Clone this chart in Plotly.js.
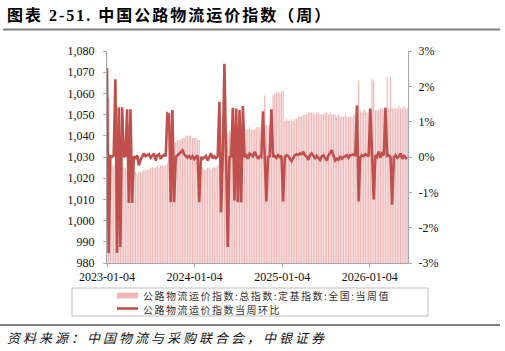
<!DOCTYPE html>
<html><head><meta charset="utf-8">
<script src="https://cdn.plot.ly/plotly-3.0.1.min.js"></script>
<style>html,body{margin:0;padding:0;background:#fff}#chart{width:505px;height:351px}</style>
</head><body><div id="chart"></div>
<script>
// ---- data ----
const firstWeek = '2023-01-04';
const weekMs = 7 * 24 * 3600 * 1000;
const seriesNames = ['公路物流运价指数:总指数:定基指数:全国:当周值', '公路物流运价指数当周环比'];
const indexValues = [
 1057,1058,1027,1026,1026,1025,1025,1026,1025,1026,
 1025,1025,1024,1024,1023,1023,1023,1023,1022,1023,
 1023,1023,1024,1024,1024,1024,1025,1025,1025,1025,
 1026,1025,1026,1026,1026,1026,1027,1030,1033,1036,
 1037,1037,1038,1038,1038,1039,1039,1040,1040,1040,
 1040,1039,1039,1039,1038,1038,1024,1025,1024,1024,
 1025,1025,1024,1025,1025,1025,1026,1027,1030,1034,
 1037,1040,1041,1042,1042,1043,1043,1044,1043,1044,
 1044,1043,1043,1043,1043,1044,1043,1043,1043,1044,
 1044,1044,1045,1045,1059,1045,1045,1045,1046,1059,
 1060,1060,1061,1060,1061,1061,1047,1048,1047,1047,
 1048,1047,1048,1048,1049,1049,1049,1050,1050,1050,
 1051,1051,1051,1051,1050,1051,1051,1050,1050,1050,
 1051,1051,1050,1051,1050,1050,1050,1049,1050,1049,
 1049,1049,1050,1049,1049,1049,1049,1050,1050,1051,
 1066,1052,1051,1052,1052,1051,1052,1052,1067,1066,
 1052,1052,1052,1053,1053,1052,1053,1068,1053,1068,
 1053,1053,1053,1053,1054,1053,1053,1054,1053,1053
];
const weeklyChange = [
 2.52,-2.72,0.02,0.0,0.05,2.2,-2.72,1.41,-2.55,1.41,
 0.0,0.03,1.35,-1.3,1.35,-1.3,0.02,-0.05,0.05,-0.24,
 -0.08,0.0,0.1,0.02,0.05,0.08,-0.02,0.06,0.1,-0.1,
 0.05,0.08,-0.05,0.03,0.06,0.02,1.23,1.2,-1.28,1.33,
 -1.28,0.0,0.05,0.1,0.12,0.19,0.08,0.04,-0.02,0.03,
 -0.04,0.02,-0.06,0.0,0.04,-1.28,0.0,-0.05,-0.02,0.03,
 -0.1,0.0,0.1,-0.04,0.02,-0.03,0.02,1.56,-1.56,0.0,
 2.64,0.0,-2.55,0.0,0.02,1.39,-1.23,1.37,-1.28,1.33,
 -1.28,1.44,0.0,0.05,-0.05,0.1,0.05,0.02,0.15,0.03,
 -0.05,0.02,0.0,1.29,0.0,-1.26,0.0,0.02,1.35,0.0,
 0.03,-0.03,0.05,0.0,0.03,-1.26,0.0,0.05,0.03,-0.05,
 -0.12,-0.03,0.05,0.08,0.06,0.1,0.08,0.15,0.05,0.02,
 -0.08,0.05,0.1,0.04,-0.05,0.03,-0.03,-0.08,0.02,0.05,
 -0.02,-0.1,0.05,0.12,0.19,0.05,-0.1,-0.05,-0.08,0.02,
 -0.05,0.0,0.03,0.05,-0.02,0.06,0.05,0.08,0.03,1.46,
 -1.26,0.0,0.05,0.02,0.08,0.05,0.02,1.37,0.05,-1.2,
 0.05,0.0,0.15,-0.02,0.1,0.05,1.39,0.03,0.05,0.0,
 -1.35,0.0,0.05,-0.02,0.02,0.1,-0.05,0.03,-0.02,-0.05
];
const xTickVals = ['2023-01-04', '2024-01-04', '2025-01-04', '2026-01-04'];
const xTickText = ['2023-01-04', '2024-01-04', '2025-01-04', '2026-01-04'];
const leftTickVals = [980, 990, 1000, 1010, 1020, 1030, 1040, 1050, 1060, 1070, 1080];
const rightTickVals = [-3, -2, -1, 0, 1, 2, 3];
const rightTickText = ['-3%', '-2%', '-1%', '0%', '1%', '2%', '3%'];
const titleText = '图表 2-51. 中国公路物流运价指数（周）';
const sourceText = '资料来源：中国物流与采购联合会，中银证券';

// ---- style ----
const barColor = '#f0b6b6';
const lineColor = '#c0504d';
const axisColor = '#a6a6a6';
const L = 107, R = 408, T = 51, B = 263, W = 505, H = 351;
const px = X => (X - L) / (R - L);
const py = Y => (B - Y) / (B - T);
const serif = 'Liberation Serif';
const tickFont = {family: serif, size: 12, color: '#111'};
const cjk = 'Noto Sans CJK SC';

const traces = [
  {type: 'bar', name: seriesNames[0], x0: firstWeek, dx: weekMs, y: indexValues,
   marker: {color: barColor, line: {width: 0}}, yaxis: 'y', showlegend: false},
  {type: 'scatter', mode: 'lines', name: seriesNames[1], x0: firstWeek, dx: weekMs, y: weeklyChange,
   line: {color: lineColor, width: 2.6}, yaxis: 'y2', showlegend: false}
];

const layout = {
  width: W, height: H,
  margin: {l: L, r: W - R, t: T, b: H - B, pad: 0},
  paper_bgcolor: '#fff', plot_bgcolor: '#fff',
  bargap: 0.3,
  showlegend: false,
  title: {text: '<b>' + titleText + '</b>', x: 7 / W, xanchor: 'left', xref: 'container',
          y: 1 - 15.5 / H, yanchor: 'middle', yref: 'container',
          font: {family: serif + ', ' + cjk, size: 16, color: '#000'}},
  xaxis: {type: 'date', range: ['2023-01-04', '2026-06-13'], tickvals: xTickVals, ticktext: xTickText,
          showgrid: false, zeroline: false, showline: true, linecolor: axisColor, linewidth: 1,
          ticks: 'outside', ticklen: 3, tickcolor: axisColor, tickfont: tickFont},
  yaxis: {range: [980, 1080], tickvals: leftTickVals, tickformat: ',d', showgrid: false, zeroline: false,
          showline: true, linecolor: axisColor, linewidth: 1, ticks: 'outside', ticklen: 3,
          tickcolor: axisColor, tickfont: tickFont, ticklabelstandoff: 6},
  yaxis2: {range: [-3, 3], overlaying: 'y', side: 'right', tickvals: rightTickVals, ticktext: rightTickText,
           showgrid: false, zeroline: false, showline: true, linecolor: axisColor, linewidth: 1,
           ticks: 'outside', ticklen: 3, tickcolor: axisColor, tickfont: tickFont, ticklabelstandoff: 4},
  shapes: [
    {type: 'line', xref: 'paper', yref: 'paper', x0: px(3), x1: px(500), y0: py(29.6), y1: py(29.6),
     line: {color: '#7f7f7f', width: 2}},
    {type: 'line', xref: 'paper', yref: 'paper', x0: px(0), x1: px(500), y0: py(325), y1: py(325),
     line: {color: '#7f7f7f', width: 2}},
    {type: 'rect', xref: 'paper', yref: 'paper', x0: px(72), x1: px(428), y0: py(316), y1: py(288),
     line: {color: '#bfbfbf', width: 1}, fillcolor: 'rgba(0,0,0,0)'},
    {type: 'rect', xref: 'paper', yref: 'paper', x0: px(117), x1: px(138), y0: py(298.5), y1: py(292.5),
     line: {width: 0}, fillcolor: barColor},
    {type: 'line', xref: 'paper', yref: 'paper', x0: px(117), x1: px(138), y0: py(308.5), y1: py(308.5),
     line: {color: lineColor, width: 2.6}}
  ],
  annotations: [
    {text: seriesNames[0], xref: 'paper', yref: 'paper', x: px(141), y: py(295.5), xanchor: 'left',
     yanchor: 'middle', align: 'left', showarrow: false, font: {family: cjk, size: 10, color: '#333'}},
    {text: seriesNames[1], xref: 'paper', yref: 'paper', x: px(141), y: py(309), xanchor: 'left',
     yanchor: 'middle', align: 'left', showarrow: false, font: {family: cjk, size: 10, color: '#333'}},
    {text: '<i>' + sourceText + '</i>', xref: 'paper', yref: 'paper', x: px(5), y: py(337.5), xanchor: 'left',
     yanchor: 'middle', align: 'left', showarrow: false, font: {family: cjk, size: 13, color: '#111'}}
  ]
};

Plotly.newPlot('chart', traces, layout, {staticPlot: true, displayModeBar: false}).then(() => {
  const spacing = ['1.5px', '1.5px', '3px'];
  document.querySelectorAll('#chart .annotation').forEach(g => {
    const i = +g.getAttribute('data-index');
    const t = g.querySelector('text');
    if (t && spacing[i]) t.setAttribute('letter-spacing', spacing[i]);
  });
  const gt = document.querySelector('#chart .gtitle');
  if (gt) gt.setAttribute('letter-spacing', '2px');
});
</script>
</body></html>
